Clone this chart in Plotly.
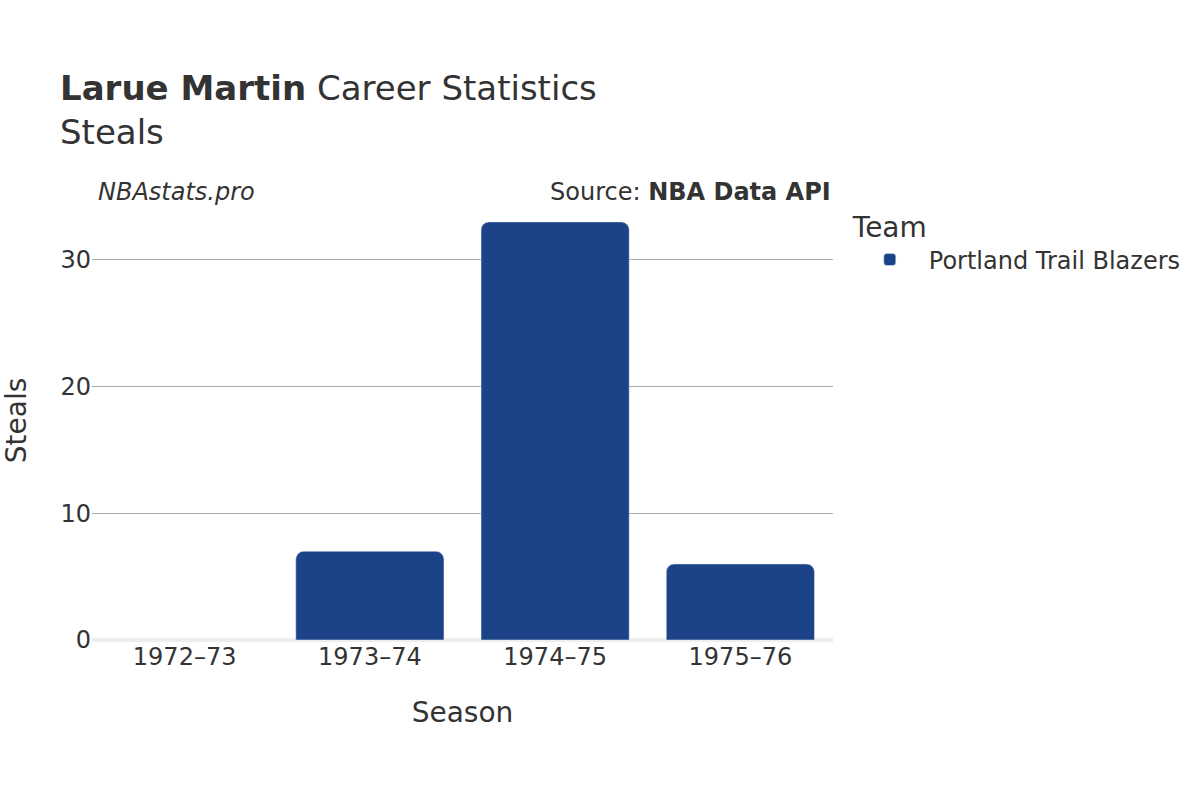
import plotly.graph_objects as go

seasons = ["1972–73", "1973–74", "1974–75", "1975–76"]
steals = [0, 7, 33, 6]
team = "Portland Trail Blazers"
bar_color = "#1c4387"

fig = go.Figure()
fig.add_trace(go.Bar(x=seasons, y=steals, name=team, marker_color=bar_color,
                     showlegend=True))

font_family = "DejaVu Sans"
fig.update_layout(
    width=1200, height=800,
    font=dict(family=font_family, color="#333333", size=24),
    paper_bgcolor="white", plot_bgcolor="white",
    margin=dict(l=92, r=367, t=201, b=160),
    title=dict(text="<b>Larue Martin</b> Career Statistics<br>Steals",
               x=60 / 1200, xanchor="left", y=0.875, yanchor="top",
               font=dict(size=34, color="#333333")),
    bargap=0.2,
    barcornerradius=8,
    legend=dict(title=dict(text="Team", font=dict(size=28)),
                x=1.024, xanchor="left", y=1.0, yanchor="top",
                itemwidth=68,
                font=dict(size=24)),
    xaxis=dict(title=dict(text="Season", font=dict(size=28), standoff=32),
               automargin=False,
               tickfont=dict(size=24), showgrid=False),
    yaxis=dict(title=dict(text="Steals", font=dict(size=28), standoff=28),
               automargin=False,
               range=[0, 34.65], tickvals=[0, 10, 20, 30],
               tickfont=dict(size=24), showgrid=True, gridcolor="#aaaaaa",
               zeroline=True, zerolinecolor="#eeeeee", zerolinewidth=4),
    annotations=[
        dict(text="<i>NBAstats.pro</i>", xref="paper", yref="paper",
             x=0.0054, y=1.0205, xanchor="left", yanchor="middle",
             showarrow=False, font=dict(size=24)),
        dict(text="Source: <b>NBA Data API</b>", xref="paper", yref="paper",
             x=1.0, y=1.0205, xanchor="right", yanchor="middle",
             showarrow=False, font=dict(size=24)),
    ],
)

fig.write_html("out.html", config={"displayModeBar": False},
               post_script="document.body.style.margin='0';")
